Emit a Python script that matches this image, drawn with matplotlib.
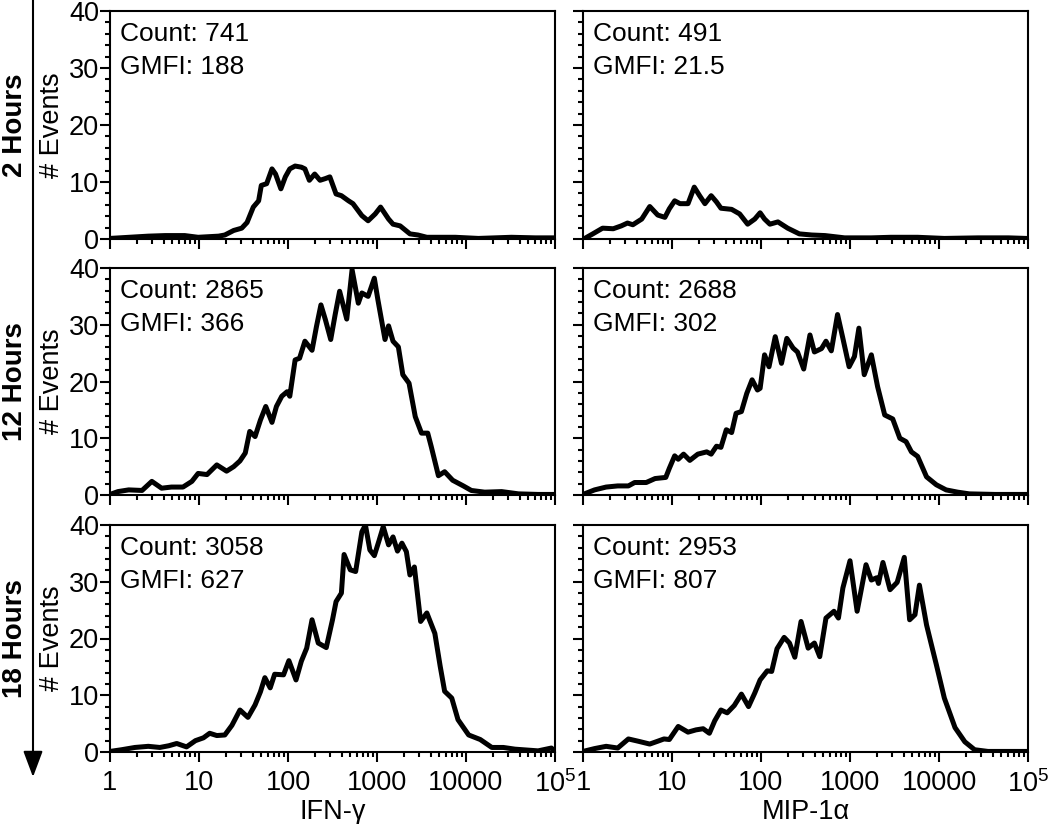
import matplotlib
matplotlib.use("Agg")
import matplotlib.pyplot as plt
import numpy as np
from matplotlib.ticker import FixedLocator, LogLocator, NullFormatter, MultipleLocator
from matplotlib.patches import FancyArrowPatch

plt.rcParams['font.family'] = ['Liberation Sans', 'DejaVu Sans']
plt.rcParams['mathtext.fontset'] = 'custom'
plt.rcParams['mathtext.rm'] = 'Liberation Sans'
plt.rcParams['font.size'] = 19

rows = ['2 Hours', '12 Hours', '18 Hours']
markers = ['IFN-\u03b3', 'MIP-1\u03b1']
counts = [['741', '491'], ['2865', '2688'], ['3058', '2953']]
gmfi = [['188', '21.5'], ['366', '302'], ['627', '807']]
xtick_labels = ['1', '10', '100', '1000', '10000', r'10$^5$']

# x positions are given in decades (log10 of fluorescence), y = # events
ifn_2h_dec = [0, 0.43, 0.62, 0.84, 0.99, 1.22, 1.29, 1.39, 1.48, 1.54, 1.61, 1.67, 1.70,
              1.76, 1.82, 1.86, 1.92, 1.97, 2.02, 2.08, 2.15, 2.19, 2.24, 2.30, 2.36, 2.42,
              2.47, 2.54, 2.60, 2.68, 2.73, 2.83, 2.90, 2.98, 3.04, 3.13, 3.18, 3.26, 3.37,
              3.46, 3.56, 3.88, 4.14, 4.51, 4.78, 4.98]
ifn_2h = [0.1, 0.5, 0.6, 0.6, 0.3, 0.5, 0.7, 1.5, 1.9, 2.9, 5.6, 6.7, 9.4, 9.7, 12.3, 11.4,
          8.8, 10.9, 12.3, 12.8, 12.6, 12.3, 10.3, 11.4, 10.3, 10.6, 10.9, 7.9, 7.6, 6.7,
          6.2, 4.1, 3.2, 4.4, 5.6, 3.5, 2.6, 2.3, 0.9, 0.7, 0.3, 0.3, 0.1, 0.3, 0.2, 0.2]

mip_2h_dec = [0.02, 0.11, 0.22, 0.34, 0.43, 0.50, 0.56, 0.66, 0.75, 0.84, 0.92, 0.97, 1.03,
              1.09, 1.18, 1.25, 1.31, 1.37, 1.44, 1.50, 1.55, 1.67, 1.76, 1.85, 1.93, 1.99,
              2.04, 2.10, 2.19, 2.30, 2.43, 2.57, 2.72, 2.94, 3.24, 3.46, 3.76, 4.06, 4.44,
              4.78, 4.98]
mip_2h = [0.1, 0.9, 1.9, 1.8, 2.3, 2.8, 2.5, 3.5, 5.7, 4.2, 3.8, 5.3, 6.7, 6.2, 6.2, 9.1,
          7.6, 6.2, 7.6, 6.5, 5.4, 5.2, 4.4, 2.6, 3.5, 4.6, 3.5, 2.6, 3.0, 1.9, 0.9, 0.7,
          0.6, 0.2, 0.2, 0.3, 0.3, 0.1, 0.2, 0.2, 0.1]

ifn_12h_dec = [0, 0.09, 0.21, 0.36, 0.47, 0.58, 0.69, 0.82, 0.92, 0.99, 1.09, 1.20, 1.31,
               1.39, 1.46, 1.52, 1.57, 1.63, 1.69, 1.75, 1.82, 1.87, 1.93, 1.99, 2.02, 2.08,
               2.13, 2.19, 2.27, 2.32, 2.37, 2.42, 2.48, 2.53, 2.58, 2.66, 2.72, 2.79, 2.83,
               2.90, 2.97, 3.01, 3.09, 3.13, 3.18, 3.24, 3.29, 3.36, 3.43, 3.50, 3.57, 3.61,
               3.69, 3.76, 3.85, 3.97, 4.06, 4.21, 4.40, 4.59, 4.81, 4.98]
ifn_12h = [0.1, 0.6, 0.9, 0.8, 2.4, 1.2, 1.4, 1.4, 2.4, 3.8, 3.6, 5.3, 4.2, 5.0, 6.0, 7.4,
           11.2, 10.3, 13.2, 15.6, 12.8, 15.6, 17.4, 18.2, 17.4, 23.8, 24.1, 27.1, 25.5,
           29.7, 33.5, 30.9, 27.4, 31.8, 35.9, 31.0, 39.7, 33.8, 35.6, 35.0, 38.2, 34.4,
           27.4, 29.8, 27.1, 26.1, 21.2, 19.7, 13.8, 10.9, 10.9, 8.5, 3.4, 4.1, 2.6, 1.6,
           0.8, 0.5, 0.6, 0.2, 0.1, 0.1]

mip_12h_dec = [0, 0.13, 0.26, 0.39, 0.51, 0.58, 0.71, 0.81, 0.93, 0.97, 1.03, 1.07, 1.13,
               1.20, 1.29, 1.39, 1.44, 1.50, 1.55, 1.61, 1.67, 1.72, 1.78, 1.84, 1.90, 1.96,
               1.99, 2.04, 2.09, 2.16, 2.23, 2.29, 2.36, 2.41, 2.48, 2.55, 2.60, 2.68, 2.73,
               2.79, 2.86, 2.92, 2.99, 3.05, 3.10, 3.16, 3.24, 3.31, 3.39, 3.48, 3.56, 3.63,
               3.69, 3.76, 3.86, 3.97, 4.08, 4.21, 4.34, 4.63, 4.98]
mip_12h = [0.1, 0.9, 1.4, 1.6, 1.6, 2.2, 2.2, 2.9, 3.1, 4.7, 6.9, 6.3, 7.2, 6.1, 7.2, 7.6,
           7.2, 8.6, 8.4, 11.5, 11.0, 14.4, 14.7, 17.9, 20.3, 18.5, 18.8, 24.7, 22.6, 27.9,
           23.2, 27.6, 25.9, 25.2, 22.2, 28.2, 25.2, 25.8, 27.1, 25.4, 31.8, 27.6, 22.6,
           24.4, 29.4, 21.2, 24.7, 19.1, 14.1, 13.4, 10.0, 9.4, 7.6, 6.8, 3.2, 1.8, 0.9,
           0.5, 0.2, 0.1, 0.1]

ifn_18h_dec = [0, 0.13, 0.28, 0.43, 0.56, 0.66, 0.75, 0.86, 0.96, 1.05, 1.12, 1.20, 1.29,
               1.37, 1.46, 1.55, 1.63, 1.69, 1.74, 1.80, 1.85, 1.95, 2.01, 2.09, 2.15, 2.21,
               2.27, 2.34, 2.43, 2.50, 2.54, 2.60, 2.63, 2.70, 2.76, 2.83, 2.87, 2.92, 2.97,
               3.02, 3.07, 3.13, 3.18, 3.23, 3.28, 3.33, 3.37, 3.42, 3.49, 3.56, 3.65, 3.71,
               3.76, 3.84, 3.91, 4.03, 4.16, 4.29, 4.42, 4.55, 4.81, 4.96, 4.99]
ifn_18h = [0.1, 0.4, 0.8, 1.0, 0.8, 1.1, 1.5, 0.9, 2.0, 2.5, 3.3, 2.9, 3.0, 4.7, 7.4, 6.1,
           8.3, 10.6, 13.1, 11.3, 13.7, 13.6, 16.1, 12.7, 16.0, 18.3, 23.3, 19.2, 18.4,
           23.3, 26.5, 28.0, 34.8, 32.1, 31.8, 38.8, 40.0, 35.6, 34.6, 37.1, 39.7, 36.5,
           37.9, 35.4, 36.8, 35.3, 31.2, 32.6, 23.0, 24.5, 20.9, 15.1, 10.7, 9.5, 5.7, 3.0,
           2.2, 0.8, 0.8, 0.5, 0.2, 0.7, 0.2]

mip_18h_dec = [0, 0.13, 0.26, 0.39, 0.51, 0.62, 0.75, 0.84, 0.91, 0.97, 1.07, 1.18, 1.27,
               1.35, 1.42, 1.48, 1.55, 1.62, 1.70, 1.78, 1.86, 1.93, 1.99, 2.07, 2.12, 2.18,
               2.26, 2.32, 2.38, 2.45, 2.53, 2.60, 2.66, 2.73, 2.82, 2.87, 2.92, 3.00, 3.08,
               3.13, 3.18, 3.24, 3.30, 3.32, 3.37, 3.45, 3.53, 3.61, 3.67, 3.73, 3.78, 3.86,
               3.91, 3.97, 4.06, 4.18, 4.29, 4.40, 4.55, 4.98]
mip_18h = [0.1, 0.6, 1.0, 0.7, 2.3, 1.9, 1.4, 1.9, 2.3, 2.2, 4.5, 3.5, 3.9, 4.1, 3.3, 5.5,
           7.4, 6.9, 8.2, 10.2, 8.0, 10.4, 12.7, 14.3, 14.2, 18.2, 20.2, 19.2, 16.7, 23.0,
           18.3, 19.2, 16.8, 23.6, 24.8, 23.6, 28.9, 33.7, 24.8, 28.9, 33.0, 30.3, 30.7,
           29.7, 33.4, 28.6, 29.9, 34.3, 23.3, 24.2, 29.4, 22.4, 19.2, 15.4, 9.5, 4.3, 1.8,
           0.4, 0.1, 0.1]

series = [[(ifn_2h_dec, ifn_2h), (mip_2h_dec, mip_2h)],
          [(ifn_12h_dec, ifn_12h), (mip_12h_dec, mip_12h)],
          [(ifn_18h_dec, ifn_18h), (mip_18h_dec, mip_18h)]]

W, H = 1050, 824
fig = plt.figure(figsize=(W / 100, H / 100), dpi=100)

col_left = [110, 583]
col_width = 445
row_px = [(11, 239), (268, 495), (525, 752)]

for r in range(3):
    top, bot = row_px[r]
    for c in range(2):
        ax = fig.add_axes([col_left[c] / W, 1 - bot / H, col_width / W, (bot - top) / H])
        xd, yd = series[r][c]
        ax.plot(10 ** np.array(xd), yd, color='black', lw=3.6, solid_joinstyle='round')
        ax.set_xscale('log')
        ax.set_xlim(1, 1e5)
        ax.set_ylim(0, 40)
        ax.xaxis.set_major_locator(FixedLocator([1, 10, 100, 1000, 10000, 100000]))
        ax.xaxis.set_minor_locator(LogLocator(base=10, subs=np.arange(2, 10), numticks=20))
        ax.xaxis.set_minor_formatter(NullFormatter())
        ax.yaxis.set_major_locator(MultipleLocator(10))
        ax.yaxis.set_minor_locator(MultipleLocator(2))
        for s in ax.spines.values():
            s.set_linewidth(1.5)
        ax.tick_params(which='both', direction='out', width=1.5, top=False, right=False,
                       labelsize=19.5)
        ax.tick_params(which='major', length=7)
        ax.tick_params(which='minor', length=3.5)
        ax.tick_params(axis='x', which='major', pad=6)
        ax.tick_params(axis='y', which='major', pad=1)
        if r == 2:
            ax.set_xticklabels(xtick_labels)
            ax.set_xlabel(markers[c], labelpad=1, fontsize=19.5)
        else:
            ax.set_xticklabels([])
        if c == 0:
            ax.set_yticks([0, 10, 20, 30, 40])
            ax.set_yticklabels(['0', '10', '20', '30', '40'])
            ax.set_ylabel('# Events', fontsize=19.5, va='center')
            ax.yaxis.set_label_coords((52 - 110) / 445, 0.5)
        else:
            ax.set_yticklabels([])
        ax.text(0.022, 0.95, 'Count: ' + counts[r][c], transform=ax.transAxes,
                ha='left', va='top')
        ax.text(0.022, 0.805, 'GMFI: ' + gmfi[r][c], transform=ax.transAxes,
                ha='left', va='top')
    fig.text(15 / W, 1 - (top + bot) / 2 / H, rows[r], rotation=90, weight='bold',
             ha='center', va='center', fontsize=20)

arrow = FancyArrowPatch((33 / W, 1.0), (33 / W, 1 - 777 / H), transform=fig.transFigure,
                        arrowstyle='-|>,head_length=0.8,head_width=0.3', mutation_scale=20,
                        color='black', lw=1.5, shrinkA=0, shrinkB=0)
fig.add_artist(arrow)

fig.savefig('out.png', dpi=100)
